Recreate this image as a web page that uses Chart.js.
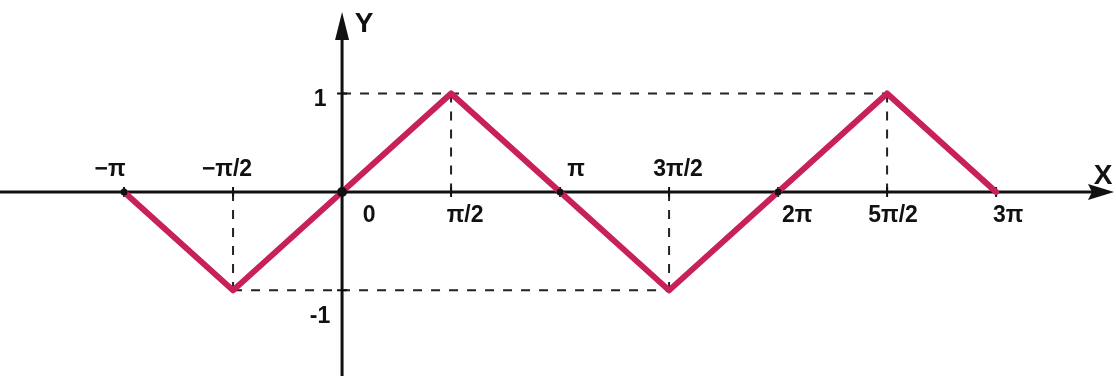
<!DOCTYPE html>
<html>
<head>
<meta charset="utf-8">
<script src="https://cdn.jsdelivr.net/npm/chart.js@4"></script>
<style>
  body { margin: 0; background: #fff; }
  canvas { display: block; }
</style>
</head>
<body>
<canvas id="waveChart" width="1116" height="376"></canvas>
<script>
// x values are in units of pi
const waveX = [-1, -0.5, 0.5, 1.5, 2.5, 3];
const waveY = [0, -1, 1, -1, 1, 0];
const xTicks = [-1, -0.5, 0, 0.5, 1, 1.5, 2, 2.5, 3];
const xTickLabels = ['−π', '−π/2', '0', 'π/2', 'π', '3π/2', '2π', '5π/2', '3π'];
const yTicks = [1, -1];
const yTickLabels = ['1', '-1'];
const zeroDots = [-1, 0, 1, 2];

const ink = '#111';
const waveColor = 'rgb(200, 32, 88)';
const labelFont = 'bold 23px "Liberation Sans"';

// label placement: side of the axis and horizontal nudge (px)
const xLabelSide = ['up', 'up', 'down', 'down', 'up', 'up', 'down', 'down', 'down'];
const xLabelNudge = [-14, -6, 27, 14, 16, 9, 19, 6, 12];

const sketchAxes = {
  id: 'sketchAxes',
  beforeDatasetsDraw(chart) {
    const { ctx, scales: { x, y } } = chart;
    const x0 = x.getPixelForValue(0), y0 = y.getPixelForValue(0);
    ctx.save();
    // dashed guides
    ctx.strokeStyle = '#222';
    ctx.lineWidth = 2;
    ctx.setLineDash([9, 9]);
    const top = y.getPixelForValue(1), bot = y.getPixelForValue(-1);
    ctx.beginPath();
    ctx.moveTo(x0, top); ctx.lineTo(x.getPixelForValue(2.5), top);
    ctx.moveTo(x.getPixelForValue(-0.5), bot); ctx.lineTo(x.getPixelForValue(1.5), bot);
    [0.5, 2.5].forEach(v => { const p = x.getPixelForValue(v); ctx.moveTo(p, top); ctx.lineTo(p, y0); });
    [-0.5, 1.5].forEach(v => { const p = x.getPixelForValue(v); ctx.moveTo(p, y0); ctx.lineTo(p, bot); });
    ctx.stroke();
    ctx.setLineDash([]);

    // axes
    ctx.strokeStyle = ink;
    ctx.fillStyle = ink;
    ctx.lineWidth = 3;
    ctx.beginPath();
    ctx.moveTo(0, y0); ctx.lineTo(1100, y0);
    ctx.moveTo(x0, 376); ctx.lineTo(x0, 30);
    ctx.stroke();
    // arrow heads
    ctx.beginPath();
    ctx.moveTo(1114, y0); ctx.lineTo(1088, y0 - 8); ctx.lineTo(1092, y0); ctx.lineTo(1088, y0 + 8);
    ctx.closePath(); ctx.fill();
    ctx.beginPath();
    ctx.moveTo(x0, 12); ctx.lineTo(x0 - 7, 40); ctx.lineTo(x0 + 7, 40);
    ctx.closePath(); ctx.fill();

    // tick marks
    ctx.lineWidth = 2;
    ctx.beginPath();
    xTicks.forEach(v => { const p = x.getPixelForValue(v); ctx.moveTo(p, y0 - 5); ctx.lineTo(p, y0 + 5); });
    yTicks.forEach(v => { const p = y.getPixelForValue(v); ctx.moveTo(x0 - 5, p); ctx.lineTo(x0 + 5, p); });
    ctx.stroke();
    ctx.restore();
  },
  afterDatasetsDraw(chart) {
    const { ctx, scales: { x, y } } = chart;
    const y0 = y.getPixelForValue(0), x0 = x.getPixelForValue(0);
    ctx.save();
    ctx.fillStyle = ink;
    zeroDots.forEach(v => {
      ctx.beginPath();
      ctx.arc(x.getPixelForValue(v), y0, v === 0 ? 5 : 3.5, 0, Math.PI * 2);
      ctx.fill();
    });

    ctx.font = labelFont;
    ctx.textAlign = 'center';
    ctx.textBaseline = 'middle';
    xTicks.forEach((v, i) => {
      const px = x.getPixelForValue(v) + xLabelNudge[i];
      const py = xLabelSide[i] === 'up' ? y0 - 22 : y0 + 24;
      ctx.fillText(xTickLabels[i], px, py);
    });
    yTicks.forEach((v, i) => {
      ctx.fillText(yTickLabels[i], x0 - 22, y.getPixelForValue(v) + (v > 0 ? 6 : 26));
    });
    ctx.font = 'bold 28px "Liberation Sans"';
    ctx.fillText('X', 1103, y0 - 16);
    ctx.fillText('Y', x0 + 22, 24);
    ctx.restore();
  }
};

new Chart(document.getElementById('waveChart'), {
  type: 'scatter',
  data: {
    datasets: [{
      data: waveX.map((v, i) => ({ x: v, y: waveY[i] })),
      showLine: true,
      borderColor: waveColor,
      borderWidth: 6,
      borderJoinStyle: 'round',
      borderCapStyle: 'round',
      pointRadius: 0,
      tension: 0,
      clip: false
    }]
  },
  options: {
    responsive: false,
    animation: false,
    devicePixelRatio: 1,
    layout: { padding: 0 },
    plugins: { legend: { display: false }, tooltip: { enabled: false } },
    scales: {
      x: { type: 'linear', min: -1.569, max: 3.55, display: false },
      y: { type: 'linear', min: -1.87, max: 1.95, display: false }
    }
  },
  plugins: [sketchAxes]
});
</script>
</body>
</html>
